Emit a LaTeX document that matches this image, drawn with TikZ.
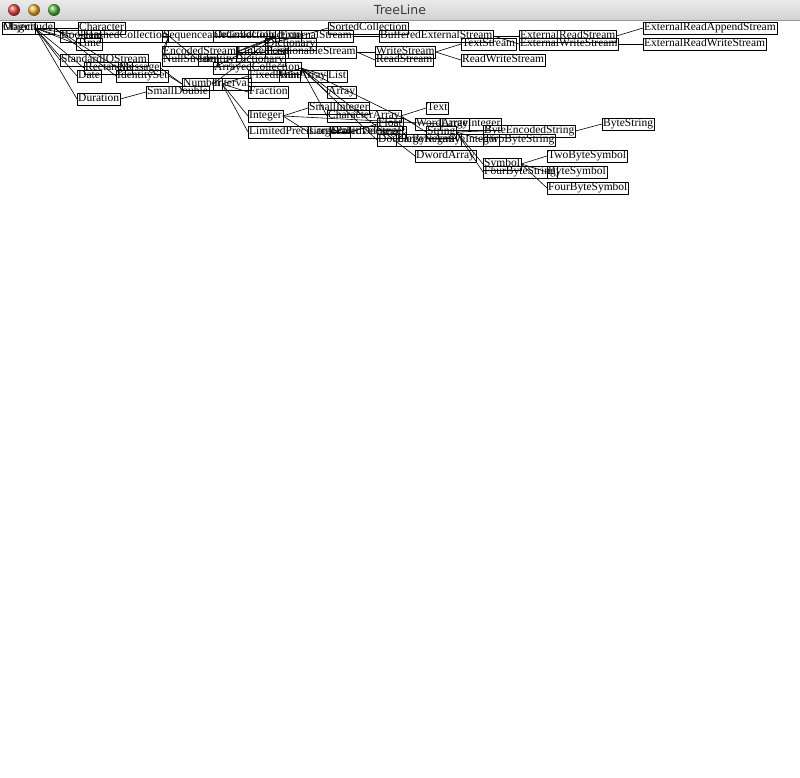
\documentclass[tikz,border=0pt]{standalone}
\usepackage{fontspec}
\setmainfont{Liberation Serif}
\newfontfamily\titlefont{DejaVu Sans}
\definecolor{barTop}{HTML}{EAEAEA}
\definecolor{barBot}{HTML}{D2D2D2}
\definecolor{barLine}{HTML}{9A9A9A}
\definecolor{titleGray}{HTML}{3A3A3A}
\definecolor{btnRed}{HTML}{F0524C}
\definecolor{btnYellow}{HTML}{F6B73A}
\definecolor{btnGreen}{HTML}{5DC245}

\begin{document}
\begin{tikzpicture}[x=1pt, y=-1pt, line cap=round, line join=round,
	cls/.style={draw, anchor=west, inner xsep=1pt, inner ysep=0.7pt,
		text height=8.2pt, text depth=2.5pt, font=\fontsize{11.5}{12}\selectfont},
	link/.style={line width=0.6pt}]

\useasboundingbox (0,0) rectangle (800,778);

%========================
% Window title bar
%========================
\shade[top color=barTop, bottom color=barBot] (0,0) rectangle (800,20);
\draw[barLine] (0,20.5) -- (800,20.5);
\node[font=\titlefont\fontsize{12.5}{13}\selectfont, text=titleGray] (title) at (400,10) {TreeLine};
\shade[ball color=btnRed] (14,10) circle(6);
\shade[ball color=btnYellow] (34,10) circle(6);
\shade[ball color=btnGreen] (54,10) circle(6);

%========================
% Class boxes
%========================
\node[cls] (Object) at (2,28) {Object};
\node[cls] (Magnitude) at (2,28) {Magnitude};
\node[cls] (Character) at (78,28) {Character};
\node[cls] (SortedCollection) at (328,28) {SortedCollection};
\node[cls] (ExternalReadAppendStream) at (643,28) {ExternalReadAppendStream};

\node[cls] (Boolean) at (60,36) {Boolean};
\node[cls] (HashedCollection) at (84,36) {HashedCollection};
\node[cls] (SequenceableCollection) at (162,36) {SequenceableCollection};
\node[cls] (OrderedCollection) at (213,36) {OrderedCollection};
\node[cls] (ExternalStream) at (279,36) {ExternalStream};
\node[cls] (BufferedExternalStream) at (379,36) {BufferedExternalStream};
\node[cls] (ExternalReadStream) at (519,36) {ExternalReadStream};

\node[cls] (Time) at (76,44) {Time};
\node[cls] (Dictionary) at (265,44) {Dictionary};
\node[cls] (TextStream) at (461,44) {TextStream};
\node[cls] (ExternalWriteStream) at (519,44) {ExternalWriteStream};
\node[cls] (ExternalReadWriteStream) at (643,44) {ExternalReadWriteStream};

\node[cls] (EncodedStream) at (162,52) {EncodedStream};
\node[cls] (LinkedList) at (236,52) {LinkedList};
\node[cls] (PositionableStream) at (265,52) {PositionableStream};
\node[cls] (WriteStream) at (375,52) {WriteStream};

\node[cls] (StandardIOStream) at (60,60) {StandardIOStream};
\node[cls] (NullStream) at (162,60) {NullStream};
\node[cls] (IdentityDictionary) at (198,60) {IdentityDictionary};
\node[cls] (ReadStream) at (375,60) {ReadStream};
\node[cls] (ReadWriteStream) at (461,60) {ReadWriteStream};

\node[cls] (Rectangle) at (84,68) {Rectangle};
\node[cls] (Message) at (118,68) {Message};
\node[cls] (ArrayedCollection) at (213,68) {ArrayedCollection};

\node[cls] (Date) at (77,76) {Date};
\node[cls] (IdentitySet) at (116,76) {IdentitySet};
\node[cls] (FixedPoint) at (248,76) {FixedPoint};
\node[cls] (RunArray) at (279,76) {RunArray};
\node[cls] (List) at (327,76) {List};

\node[cls] (Number) at (182,84) {Number};
\node[cls] (Interval) at (213,84) {Interval};

\node[cls] (SmallDouble) at (146,92) {SmallDouble};
\node[cls] (Fraction) at (248,92) {Fraction};
\node[cls] (Array) at (327,92) {Array};
\node[cls] (Duration) at (77,99) {Duration};

\node[cls] (SmallInteger) at (308,108) {SmallInteger};
\node[cls] (Text) at (426,108) {Text};
\node[cls] (Integer) at (248,116) {Integer};
\node[cls] (CharacterArray) at (327,116) {CharacterArray};

\node[cls] (Float) at (377,124) {Float};
\node[cls] (WordArray) at (415,124) {WordArray};
\node[cls] (LargeInteger) at (440,124) {LargeInteger};
\node[cls] (ByteString) at (602,124) {ByteString};

\node[cls] (LimitedPrecisionReal) at (248,132) {LimitedPrecisionReal};
\node[cls] (LargePositiveInteger) at (308,132) {LargePositiveInteger};
\node[cls] (ScaledDecimal) at (330,132) {ScaledDecimal};
\node[cls] (String) at (426,132) {String};
\node[cls] (ByteEncodedString) at (483,131) {ByteEncodedString};

\node[cls] (DoubleByteArray) at (377,140) {DoubleByteArray};
\node[cls] (LargeNegativeInteger) at (396,140) {LargeNegativeInteger};
\node[cls] (TwoByteString) at (483,140) {TwoByteString};

\node[cls] (DwordArray) at (415,156) {DwordArray};
\node[cls] (TwoByteSymbol) at (547,156) {TwoByteSymbol};
\node[cls] (Symbol) at (483,164) {Symbol};
\node[cls] (FourByteString) at (483,172) {FourByteString};
\node[cls] (ByteSymbol) at (547,172) {ByteSymbol};
\node[cls] (FourByteSymbol) at (547,188) {FourByteSymbol};

%========================
% Links parent -> child
%========================
\foreach \p/\c in {Object/Character, Object/Boolean, Object/HashedCollection,
	Object/Time, Object/StandardIOStream, Object/Rectangle, Object/Date,
	Object/Duration, Magnitude/Message, Magnitude/IdentitySet,
	HashedCollection/SequenceableCollection, HashedCollection/EncodedStream,
	HashedCollection/NullStream, HashedCollection/IdentityDictionary,
	Message/Number, IdentitySet/Number,
	SequenceableCollection/OrderedCollection, SequenceableCollection/ArrayedCollection,
	SequenceableCollection/LinkedList, SequenceableCollection/Interval,
	OrderedCollection/SortedCollection, OrderedCollection/Dictionary,
	EncodedStream/PositionableStream, EncodedStream/ExternalStream,
	ExternalStream/BufferedExternalStream,
	BufferedExternalStream/ExternalReadStream, BufferedExternalStream/ExternalWriteStream,
	ExternalReadStream/ExternalReadAppendStream, ExternalWriteStream/ExternalReadWriteStream,
	PositionableStream/WriteStream, PositionableStream/ReadStream,
	WriteStream/TextStream, WriteStream/ReadWriteStream,
	ArrayedCollection/RunArray, ArrayedCollection/List, ArrayedCollection/Array,
	ArrayedCollection/CharacterArray, ArrayedCollection/DoubleByteArray,
	ArrayedCollection/WordArray, ArrayedCollection/DwordArray,
	Duration/SmallDouble,
	Number/FixedPoint, Number/Fraction, Number/Integer, Number/LimitedPrecisionReal,
	Integer/SmallInteger, Integer/LargePositiveInteger, Integer/LargeInteger,
	LimitedPrecisionReal/Float, LimitedPrecisionReal/ScaledDecimal,
	LargePositiveInteger/LargeNegativeInteger,
	CharacterArray/Text, CharacterArray/String,
	String/ByteEncodedString, String/TwoByteString, String/Symbol, String/FourByteString,
	ByteEncodedString/ByteString,
	Symbol/TwoByteSymbol, Symbol/ByteSymbol, Symbol/FourByteSymbol}
	\draw[link] (\p.east) -- (\c.west);

\end{tikzpicture}
\end{document}
